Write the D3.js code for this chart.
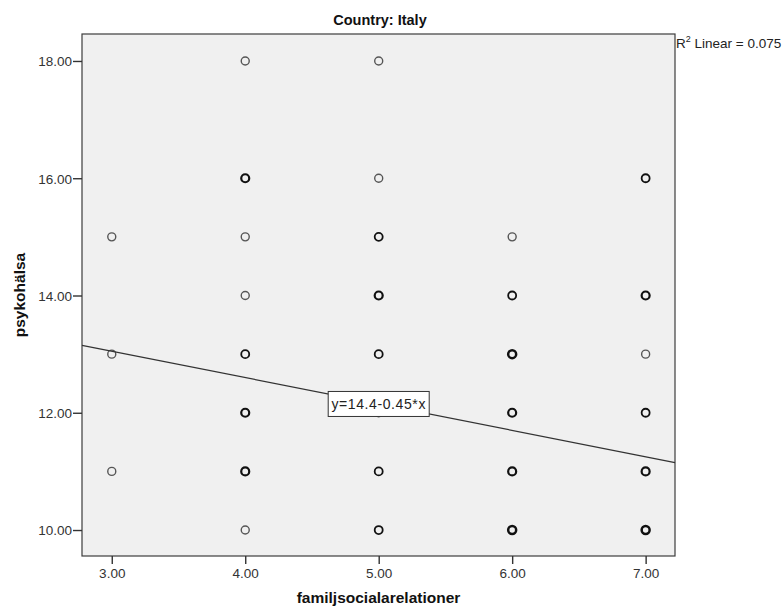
<!DOCTYPE html>
<html>
<head>
<meta charset="utf-8">
<script src="https://cdn.jsdelivr.net/npm/d3@7"></script>
<style>
  html, body { margin: 0; padding: 0; background: #ffffff; }
  svg { display: block; font-family: "Liberation Sans", Arial, sans-serif; }
</style>
</head>
<body>
<svg id="chart" width="784" height="615"></svg>
<script>
// Scatter of psykohälsa against familjsocialarelationer, Italy subset.
// Each entry in pointCount is the number of respondents sharing that (x, y) cell.
const pointX =     [3, 3, 3,  4, 4, 4, 4, 4, 4, 4, 4,  5, 5, 5, 5, 5, 5, 5, 5,  6, 6, 6, 6, 6, 6,  7, 7, 7, 7, 7, 7];
const pointY =     [15, 13, 11,  18, 16, 15, 14, 13, 12, 11, 10,  18, 16, 15, 14, 13, 12, 11, 10,  15, 14, 13, 12, 11, 10,  16, 14, 13, 12, 11, 10];
const pointCount = [1, 1, 1,  1, 3, 1, 1, 2, 3, 3, 1,  1, 1, 2, 3, 2, 1, 2, 2,  1, 2, 4, 3, 3, 4,  2, 3, 1, 2, 3, 4];

const xTicks = [3, 4, 5, 6, 7];
const yTicks = [10, 12, 14, 16, 18];

// Fitted line as reported on the chart
const fitIntercept = 14.4;
const fitSlope = -0.45;
const rSquared = 0.075;

const chartTitle = "Country: Italy";
const xTitle = "familjsocialarelationer";
const yTitle = "psykohälsa";

const svg = d3.select("#chart");
const plot = { left: 82, right: 675, top: 34, bottom: 556 };

const x = d3.scaleLinear().domain([2.777, 7.22]).range([plot.left, plot.right]);
const y = d3.scaleLinear().domain([9.557, 18.46]).range([plot.bottom, plot.top]);

// Plot background and frame
svg.append("rect")
  .attr("x", plot.left).attr("y", plot.top)
  .attr("width", plot.right - plot.left).attr("height", plot.bottom - plot.top)
  .attr("fill", "#f0f0f0")
  .attr("stroke", "#3c3c3c").attr("stroke-width", 1.2);

// Axes
const xAxis = d3.axisBottom(x).tickValues(xTicks).tickFormat(d3.format(".2f")).tickSize(8).tickSizeOuter(0);
const yAxis = d3.axisLeft(y).tickValues(yTicks).tickFormat(d3.format(".2f")).tickSize(9).tickSizeOuter(0);

const gx = svg.append("g").attr("transform", `translate(0,${plot.bottom})`).call(xAxis);
const gy = svg.append("g").attr("transform", `translate(${plot.left},0)`).call(yAxis);
[gx, gy].forEach(g => {
  g.select(".domain").remove();
  g.selectAll(".tick line").attr("stroke", "#333").attr("stroke-width", 1.4);
  g.selectAll(".tick text").attr("fill", "#333").attr("font-size", 13.5)
    .attr("font-family", "Liberation Sans, Arial, sans-serif");
});
gx.selectAll(".tick text").attr("y", 22).attr("dy", 0);
gy.selectAll(".tick text").attr("x", -10).attr("dy", "0.36em");

// Points: overlapping responses drawn as heavier rings
const pts = pointX.map((v, i) => ({ x: v, y: pointY[i], n: pointCount[i] }));
svg.append("g").selectAll("circle").data(pts).join("circle")
  .attr("cx", d => x(d.x))
  .attr("cy", d => y(d.y))
  .attr("r", 4)
  .attr("fill", "none")
  .attr("stroke", d => d.n > 1 ? "#111" : "#555")
  .attr("stroke-width", d => Math.min(1.4 + 0.4 * (d.n - 1), 2.5));

// Fit line across the plotted x range
const xd = x.domain();
svg.append("line")
  .attr("x1", x(xd[0])).attr("y1", y(fitIntercept + fitSlope * xd[0]))
  .attr("x2", x(xd[1])).attr("y2", y(fitIntercept + fitSlope * xd[1]))
  .attr("stroke", "#333").attr("stroke-width", 1.2);

// Equation label centred on the line at x = 5
const lx = 5, ly = fitIntercept + fitSlope * lx;
const eq = svg.append("g").attr("transform", `translate(${x(lx)},${y(ly)})`);
eq.append("rect").attr("x", -50.5).attr("y", -12.5).attr("width", 101).attr("height", 25)
  .attr("fill", "#ffffff").attr("stroke", "#333").attr("stroke-width", 1);
eq.append("text").attr("text-anchor", "middle").attr("dy", "0.36em")
  .attr("font-size", 14).attr("letter-spacing", 0.6).attr("fill", "#222")
  .text(`y=${fitIntercept}-${Math.abs(fitSlope)}*x`);

// R² annotation at the right edge
const r2 = svg.append("text").attr("x", plot.right + 1).attr("y", 48)
  .attr("font-size", 13.5).attr("fill", "#222");
r2.append("tspan").text("R");
r2.append("tspan").attr("dy", -6).attr("font-size", 9).text("2");
r2.append("tspan").attr("dy", 6).text(` Linear = ${rSquared}`);

// Titles
svg.append("text").attr("x", 380).attr("y", 25)
  .attr("text-anchor", "middle").attr("font-weight", "bold").attr("font-size", 14.5)
  .attr("fill", "#111").text(chartTitle);

svg.append("text").attr("x", (plot.left + plot.right) / 2).attr("y", 603)
  .attr("text-anchor", "middle").attr("font-weight", "bold").attr("font-size", 15.5)
  .attr("fill", "#111").text(xTitle);

svg.append("text")
  .attr("transform", `translate(25,${(plot.top + plot.bottom) / 2}) rotate(-90)`)
  .attr("text-anchor", "middle").attr("font-weight", "bold").attr("font-size", 15.5)
  .attr("fill", "#111").text(yTitle);
</script>
</body>
</html>
